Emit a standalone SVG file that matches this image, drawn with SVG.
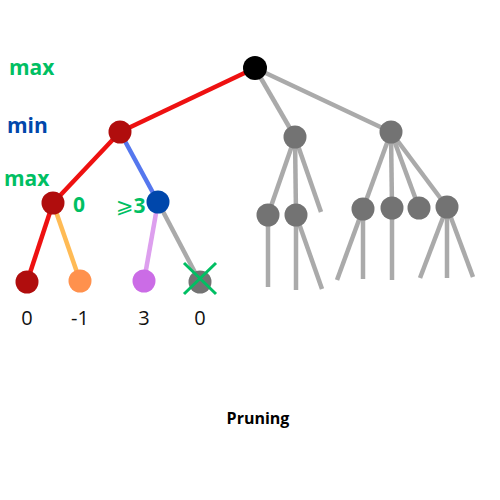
<svg xmlns="http://www.w3.org/2000/svg" width="500" height="500" viewBox="0 0 500 500">
<style>
.e{stroke-width:4.5;stroke-linecap:butt;fill:none}
.g{stroke:#aaaaaa}
.gn{fill:#737373}
.lbl{font-family:"Open Sans","DejaVu Sans",sans-serif;font-weight:bold;font-size:21px}
.val{font-family:"Open Sans","DejaVu Sans",sans-serif;font-size:20px;fill:#111;text-anchor:middle}
</style>
<rect width="500" height="500" fill="#fff"/>
<g id="connectors">
<line class="e" stroke="#ee1111" x1="255" y1="68" x2="120" y2="132"/>
<line class="e" stroke="#ee1111" x1="120" y1="132" x2="53" y2="203"/>
<line class="e" stroke="#5577ee" x1="120" y1="132" x2="158" y2="202"/>
<line class="e" stroke="#ee1111" x1="53" y1="203" x2="27" y2="282"/>
<line class="e" stroke="#ffbb55" x1="53" y1="203" x2="80" y2="281"/>
<line class="e" stroke="#dd9fee" x1="158" y1="202" x2="144" y2="281"/>
<line class="e g" x1="158" y1="202" x2="200" y2="282"/>
<line class="e g" x1="255" y1="68" x2="295" y2="137"/>
<line class="e g" x1="255" y1="68" x2="391" y2="132"/>
<line class="e g" x1="295" y1="137" x2="268" y2="215"/>
<line class="e g" x1="295" y1="137" x2="296" y2="215"/>
<line class="e g" x1="295" y1="137" x2="321" y2="212"/>
<line class="e g" x1="268" y1="215" x2="268" y2="287"/>
<line class="e g" x1="296" y1="215" x2="296" y2="290"/>
<line class="e g" x1="296" y1="215" x2="322" y2="289"/>
<line class="e g" x1="391" y1="132" x2="363" y2="209"/>
<line class="e g" x1="391" y1="132" x2="392" y2="208"/>
<line class="e g" x1="391" y1="132" x2="419" y2="208"/>
<line class="e g" x1="391" y1="132" x2="447" y2="207"/>
<line class="e g" x1="363" y1="209" x2="337" y2="280"/>
<line class="e g" x1="363" y1="209" x2="363" y2="279"/>
<line class="e g" x1="392" y1="208" x2="392" y2="280"/>
<line class="e g" x1="447" y1="207" x2="420" y2="278"/>
<line class="e g" x1="447" y1="207" x2="447" y2="278"/>
<line class="e g" x1="447" y1="207" x2="473" y2="277"/>
</g>
<g id="root"><circle cx="255" cy="68" r="12" fill="#000"/></g>
<g id="min1"><circle cx="120" cy="132" r="11.5" fill="#b00d0d"/></g>
<g id="max1"><circle cx="53" cy="203" r="11.5" fill="#b00d0d"/></g>
<g id="max2"><circle cx="158" cy="202" r="11.5" fill="#0047ab"/></g>
<g id="leaf1"><circle cx="27" cy="282" r="11.5" fill="#b00d0d"/></g>
<g id="leaf2"><circle cx="80" cy="281" r="11.5" fill="#ff914d"/></g>
<g id="leaf3"><circle cx="144" cy="281" r="11.5" fill="#cb6ce6"/></g>
<g id="leaf4"><circle cx="200" cy="282" r="11.5" fill="#737373"/>
<path d="M184 263 L216 294 M184 294 L216 263" stroke="#00bf63" stroke-width="3" fill="none"/></g>
<g id="gA"><circle class="gn" cx="295" cy="137" r="11.5"/></g>
<g id="gB"><circle class="gn" cx="391" cy="132" r="11.5"/></g>
<g id="gA1"><circle class="gn" cx="268" cy="215" r="11.5"/></g>
<g id="gA2"><circle class="gn" cx="296" cy="215" r="11.5"/></g>
<g id="gB1"><circle class="gn" cx="363" cy="209" r="11.5"/></g>
<g id="gB2"><circle class="gn" cx="392" cy="208" r="11.5"/></g>
<g id="gB3"><circle class="gn" cx="419" cy="208" r="11.5"/></g>
<g id="gB4"><circle class="gn" cx="447" cy="207" r="11.5"/></g>
<g id="labels">
<text class="lbl" x="9" y="75" fill="#00bf63">max</text>
<text class="lbl" x="7" y="133" fill="#0047ab">min</text>
<text class="lbl" x="4" y="186" fill="#00bf63">max</text>
<text class="lbl" x="73" y="212" fill="#00bf63">0</text>
<text class="lbl" x="116" y="213" fill="#00bf63"><tspan font-family="DejaVu Sans" font-weight="normal">⩾</tspan>3</text>
<text class="val" x="27" y="325">0</text>
<text class="val" x="80" y="325">-1</text>
<text class="val" x="144" y="325">3</text>
<text class="val" x="200" y="325">0</text>
<text x="258" y="424" font-family="'Open Sans','DejaVu Sans',sans-serif" font-weight="bold" font-size="16" text-anchor="middle" fill="#000">Pruning</text>
</g>
</svg>
